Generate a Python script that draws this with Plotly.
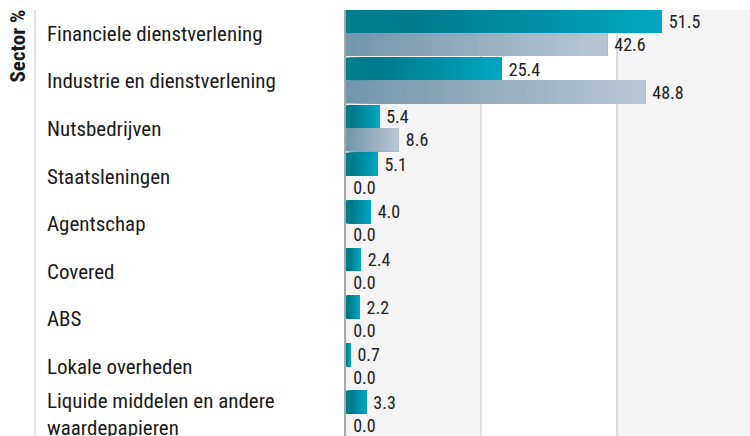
import plotly.graph_objects as go

categories = [
    "Financiele dienstverlening",
    "Industrie en dienstverlening",
    "Nutsbedrijven",
    "Staatsleningen",
    "Agentschap",
    "Covered",
    "ABS",
    "Lokale overheden",
    "Liquide middelen en andere<br>waardepapieren",
]
fund = [51.5, 25.4, 5.4, 5.1, 4.0, 2.4, 2.2, 0.7, 3.3]
benchmark = [42.6, 48.8, 8.6, 0.0, 0.0, 0.0, 0.0, 0.0, 0.0]
grid_ticks = [22.1, 44.2]
x_max = 65.9

FONT = "Roboto Condensed, Liberation Sans Narrow, Arial Narrow, Roboto, sans-serif"

teal_stops = [(0.0, (0x00, 0x7f, 0x8f)), (0.22, (0x00, 0x7a, 0x8c)), (1.0, (0x00, 0xa8, 0xc2))]
gray_stops = [(0.0, (0x72, 0x95, 0xab)), (1.0, (0xb8, 0xc7, 0xd6))]


def interp(stops, t):
    for (t0, c0), (t1, c1) in zip(stops[:-1], stops[1:]):
        if t <= t1:
            f = (t - t0) / (t1 - t0) if t1 > t0 else 0
            return "rgb(%d,%d,%d)" % tuple(round(a + (b - a) * f) for a, b in zip(c0, c1))
    return "rgb(%d,%d,%d)" % stops[-1][1]


N = 40
BW = 0.483
fig = go.Figure()
series = [(fund, teal_stops, -0.5), (benchmark, gray_stops, -0.017)]
for vals, stops, off in series:
    # gradient: each layer starts further right and covers to the bar end,
    # later layers sit on top, so no seams appear between segments
    for k in range(N):
        fig.add_trace(go.Bar(
            y=categories, x=[v * (N - k) / N for v in vals], base=[v * k / N for v in vals],
            orientation="h", offset=off, width=BW,
            marker=dict(color=interp(stops, (k + 0.5) / N), line=dict(width=0)),
            showlegend=False, hoverinfo="skip",
        ))
    fig.add_trace(go.Bar(
        y=categories, x=vals, orientation="h", offset=off, width=BW,
        marker=dict(color="rgba(0,0,0,0)", line=dict(width=0)),
        text=vals, texttemplate=" %{x:.1f}", textposition="outside",
        constraintext="none", cliponaxis=False,
        textfont=dict(family=FONT, size=18, color="#222222"),
        showlegend=False, hoverinfo="skip",
    ))

shapes = [
    dict(type="rect", xref="x", yref="paper", x0=0, x1=grid_ticks[0], y0=0, y1=1,
         fillcolor="#f4f4f4", line=dict(width=0), layer="below"),
    dict(type="rect", xref="x", yref="paper", x0=grid_ticks[1], x1=x_max, y0=0, y1=1,
         fillcolor="#f4f4f4", line=dict(width=0), layer="below"),
    dict(type="line", xref="paper", yref="paper", x0=-0.7698, x1=-0.7698, y0=0, y1=1,
         line=dict(color="#c8c8c8", width=1)),
]

annotations = []
for c in categories:
    annotations.append(dict(
        xref="paper", yref="y", x=-0.745, y=c, xanchor="left", yanchor="middle",
        text=c, showarrow=False, align="left",
        font=dict(family=FONT, size=21, color="#1a1a1a"),
    ))
annotations.append(dict(
    xref="paper", yref="paper", x=-0.812, y=1.007, xanchor="center", yanchor="top",
    text="<b>Sector %</b>", textangle=-90, showarrow=False,
    font=dict(family=FONT, size=21, color="#1a1a1a"),
))

fig.update_layout(
    width=750, height=436,
    margin=dict(l=346, r=0, t=10, b=0),
    barmode="overlay",
    plot_bgcolor="white", paper_bgcolor="white",
    shapes=shapes, annotations=annotations,
    xaxis=dict(range=[0, x_max], tickvals=grid_ticks, showticklabels=False,
               showgrid=True, gridcolor="#dedede", gridwidth=2, zeroline=False,
               fixedrange=True),
    yaxis=dict(categoryorder="array", categoryarray=categories, range=[8.45, -0.5],
               showticklabels=False, showgrid=False, zeroline=False,
               showline=True, linecolor="#a8a8a8", linewidth=2, fixedrange=True),
    font=dict(family=FONT),
)

fig.write_html("out.html")
